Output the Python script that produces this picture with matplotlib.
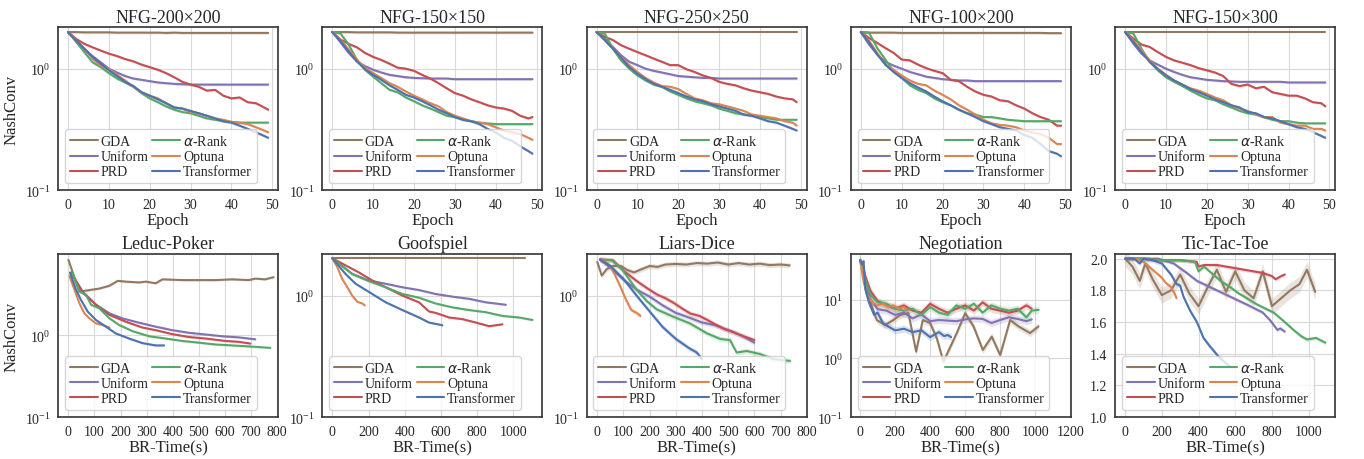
import numpy as np
import matplotlib.pyplot as plt
import seaborn as sns

sns.set_style('whitegrid')
plt.rcParams['font.family'] = ['Liberation Serif', 'DejaVu Sans']
plt.rcParams['axes.edgecolor'] = '.2'
plt.rcParams['axes.linewidth'] = 1.2
plt.rcParams['grid.color'] = '.85'

methods = ['GDA', 'Uniform', 'PRD', r'$\alpha$-Rank', 'Optuna', 'Transformer']
colors = ['#937860', '#8172B3', '#C44E52', '#55A868', '#DD8452', '#4C72B0']

## NFG games, NashConv per epoch (read every 2 epochs)
epochs = [0, 2, 4, 6, 8, 10, 12, 14, 16, 18, 20, 22, 24, 26, 28, 30, 32, 34, 36, 38, 40, 42, 44, 46, 48, 49]

nfg_titles = ['NFG-200×200', 'NFG-150×150', 'NFG-250×250', 'NFG-100×200', 'NFG-150×300']

gda_200 = [2.0, 2.0, 1.99, 1.99, 1.99, 1.99, 1.98, 1.98, 1.98, 1.98, 1.98, 1.98, 1.97, 1.98, 1.97, 1.97, 1.97, 1.97, 1.97, 1.97, 1.97, 1.97, 1.97, 1.97, 1.97, 1.97]
uni_200 = [2.0, 1.7, 1.45, 1.27, 1.13, 1.0, 0.93, 0.87, 0.83, 0.81, 0.79, 0.77, 0.76, 0.75, 0.745, 0.74, 0.74, 0.74, 0.74, 0.74, 0.74, 0.74, 0.74, 0.74, 0.74, 0.74]
prd_200 = [2.0, 1.76, 1.6, 1.5, 1.41, 1.33, 1.27, 1.2, 1.15, 1.08, 1.03, 0.98, 0.92, 0.85, 0.78, 0.74, 0.71, 0.66, 0.67, 0.6, 0.57, 0.58, 0.53, 0.52, 0.48, 0.46]
ar_200 = [2.0, 1.66, 1.37, 1.13, 1.03, 0.92, 0.83, 0.77, 0.71, 0.63, 0.57, 0.53, 0.49, 0.46, 0.44, 0.43, 0.41, 0.39, 0.38, 0.37, 0.365, 0.36, 0.36, 0.36, 0.36, 0.36]
opt_200 = [2.0, 1.72, 1.46, 1.21, 1.06, 1.0, 0.89, 0.8, 0.71, 0.64, 0.6, 0.57, 0.52, 0.48, 0.47, 0.44, 0.43, 0.41, 0.39, 0.38, 0.365, 0.36, 0.35, 0.33, 0.31, 0.3]
tr_200 = [2.0, 1.71, 1.46, 1.25, 1.1, 0.97, 0.87, 0.78, 0.72, 0.64, 0.6, 0.56, 0.52, 0.48, 0.47, 0.45, 0.43, 0.41, 0.39, 0.37, 0.36, 0.34, 0.32, 0.3, 0.28, 0.27]

gda_150 = [2.0, 2.0, 2.0, 1.99, 1.99, 1.99, 1.99, 1.99, 1.98, 1.98, 1.98, 1.98, 1.98, 1.98, 1.98, 1.98, 1.98, 1.98, 1.98, 1.98, 1.98, 1.98, 1.98, 1.98, 1.98, 1.98]
uni_150 = [2.0, 1.65, 1.35, 1.15, 1.05, 0.98, 0.93, 0.89, 0.87, 0.85, 0.84, 0.835, 0.83, 0.83, 0.83, 0.82, 0.82, 0.82, 0.82, 0.82, 0.82, 0.82, 0.82, 0.82, 0.82, 0.82]
prd_150 = [2.0, 1.74, 1.6, 1.5, 1.35, 1.25, 1.18, 1.1, 1.02, 1.0, 0.96, 0.89, 0.83, 0.76, 0.69, 0.63, 0.6, 0.56, 0.53, 0.5, 0.48, 0.47, 0.45, 0.41, 0.39, 0.4]
ar_150 = [2.0, 1.95, 1.58, 1.19, 0.98, 0.86, 0.76, 0.67, 0.64, 0.58, 0.54, 0.5, 0.47, 0.44, 0.41, 0.4, 0.38, 0.37, 0.36, 0.355, 0.35, 0.35, 0.35, 0.35, 0.35, 0.35]
opt_150 = [2.0, 1.74, 1.44, 1.19, 1.01, 0.92, 0.84, 0.76, 0.71, 0.65, 0.6, 0.56, 0.52, 0.49, 0.44, 0.41, 0.39, 0.37, 0.36, 0.35, 0.33, 0.31, 0.3, 0.29, 0.27, 0.26]
tr_150 = [2.0, 1.69, 1.39, 1.15, 0.99, 0.89, 0.81, 0.73, 0.67, 0.61, 0.58, 0.54, 0.5, 0.46, 0.43, 0.4, 0.38, 0.37, 0.35, 0.32, 0.3, 0.27, 0.255, 0.23, 0.21, 0.2]

gda_250 = [2.0, 2.0, 2.0, 2.0, 2.0, 2.0, 2.0, 2.0, 2.0, 2.0, 2.0, 2.0, 2.0, 2.0, 2.0, 2.0, 2.0, 2.0, 2.0, 2.0, 2.0, 2.0, 2.0, 2.0, 2.0, 2.0]
uni_250 = [2.0, 1.77, 1.51, 1.29, 1.14, 1.07, 1.0, 0.96, 0.93, 0.9, 0.87, 0.86, 0.85, 0.84, 0.84, 0.83, 0.83, 0.83, 0.83, 0.83, 0.83, 0.83, 0.83, 0.83, 0.83, 0.83]
prd_250 = [2.0, 1.83, 1.72, 1.56, 1.46, 1.37, 1.29, 1.21, 1.14, 1.07, 1.07, 0.99, 0.94, 0.88, 0.84, 0.78, 0.75, 0.73, 0.69, 0.66, 0.64, 0.62, 0.59, 0.57, 0.56, 0.53]
ar_250 = [2.0, 1.95, 1.46, 1.17, 1.0, 0.88, 0.8, 0.74, 0.71, 0.65, 0.61, 0.57, 0.54, 0.52, 0.5, 0.47, 0.45, 0.43, 0.42, 0.41, 0.4, 0.39, 0.38, 0.38, 0.38, 0.38]
opt_250 = [2.0, 1.72, 1.46, 1.25, 1.07, 0.94, 0.84, 0.77, 0.72, 0.71, 0.68, 0.62, 0.57, 0.55, 0.52, 0.51, 0.49, 0.47, 0.45, 0.42, 0.41, 0.4, 0.39, 0.37, 0.36, 0.34]
tr_250 = [2.0, 1.72, 1.46, 1.23, 1.03, 0.91, 0.82, 0.75, 0.71, 0.67, 0.63, 0.59, 0.56, 0.54, 0.51, 0.49, 0.47, 0.45, 0.42, 0.41, 0.39, 0.37, 0.36, 0.34, 0.32, 0.31]

gda_100 = [2.0, 1.98, 1.98, 1.98, 1.98, 1.97, 1.97, 1.97, 1.97, 1.97, 1.97, 1.97, 1.97, 1.97, 1.97, 1.97, 1.97, 1.97, 1.97, 1.97, 1.97, 1.97, 1.97, 1.96, 1.96, 1.96]
uni_100 = [2.0, 1.58, 1.31, 1.14, 1.06, 1.0, 0.94, 0.9, 0.86, 0.84, 0.82, 0.81, 0.8, 0.8, 0.79, 0.79, 0.79, 0.79, 0.79, 0.79, 0.79, 0.79, 0.79, 0.79, 0.79, 0.79]
prd_100 = [2.0, 1.79, 1.63, 1.48, 1.35, 1.19, 1.17, 1.08, 1.01, 0.96, 0.92, 0.81, 0.79, 0.71, 0.65, 0.61, 0.59, 0.55, 0.54, 0.5, 0.47, 0.43, 0.4, 0.38, 0.34, 0.34]
ar_100 = [2.0, 1.98, 1.48, 1.19, 0.95, 0.84, 0.73, 0.67, 0.63, 0.57, 0.53, 0.5, 0.46, 0.43, 0.42, 0.4, 0.4, 0.39, 0.38, 0.375, 0.37, 0.37, 0.37, 0.37, 0.37, 0.37]
opt_100 = [2.0, 1.7, 1.35, 1.08, 0.98, 0.88, 0.8, 0.75, 0.73, 0.66, 0.61, 0.56, 0.5, 0.46, 0.42, 0.38, 0.355, 0.345, 0.34, 0.33, 0.31, 0.3, 0.29, 0.27, 0.24, 0.24]
tr_100 = [2.0, 1.65, 1.31, 1.08, 0.94, 0.84, 0.76, 0.7, 0.65, 0.59, 0.54, 0.5, 0.46, 0.43, 0.4, 0.37, 0.35, 0.33, 0.32, 0.31, 0.285, 0.27, 0.24, 0.21, 0.2, 0.19]

gda_300 = [2.0, 2.0, 2.0, 2.0, 2.0, 2.0, 2.0, 2.0, 2.0, 2.0, 2.0, 2.0, 2.0, 2.0, 2.0, 2.0, 2.0, 2.0, 2.0, 2.0, 2.0, 2.0, 2.0, 2.0, 2.0, 2.0]
uni_300 = [2.0, 1.61, 1.33, 1.17, 1.08, 1.0, 0.94, 0.89, 0.85, 0.83, 0.81, 0.8, 0.79, 0.785, 0.78, 0.78, 0.78, 0.78, 0.78, 0.78, 0.77, 0.77, 0.77, 0.77, 0.77, 0.77]
prd_300 = [2.0, 1.77, 1.58, 1.51, 1.37, 1.25, 1.17, 1.12, 1.07, 1.01, 0.97, 0.93, 0.87, 0.75, 0.72, 0.74, 0.69, 0.71, 0.64, 0.62, 0.6, 0.6, 0.57, 0.53, 0.52, 0.49]
ar_300 = [2.0, 1.95, 1.46, 1.14, 0.97, 0.85, 0.78, 0.72, 0.66, 0.61, 0.57, 0.55, 0.51, 0.48, 0.45, 0.43, 0.42, 0.4, 0.38, 0.37, 0.37, 0.36, 0.355, 0.355, 0.355, 0.355]
opt_300 = [2.0, 1.71, 1.42, 1.17, 1.0, 0.89, 0.8, 0.74, 0.69, 0.66, 0.62, 0.58, 0.55, 0.5, 0.47, 0.45, 0.42, 0.4, 0.4, 0.36, 0.35, 0.34, 0.34, 0.32, 0.32, 0.31]
tr_300 = [2.0, 1.66, 1.37, 1.14, 0.99, 0.88, 0.8, 0.74, 0.68, 0.64, 0.6, 0.56, 0.53, 0.5, 0.48, 0.44, 0.43, 0.4, 0.39, 0.37, 0.35, 0.33, 0.32, 0.3, 0.28, 0.27]

nfg_data = [[gda_200, uni_200, prd_200, ar_200, opt_200, tr_200],
            [gda_150, uni_150, prd_150, ar_150, opt_150, tr_150],
            [gda_250, uni_250, prd_250, ar_250, opt_250, tr_250],
            [gda_100, uni_100, prd_100, ar_100, opt_100, tr_100],
            [gda_300, uni_300, prd_300, ar_300, opt_300, tr_300]]

## Extensive-form games, NashConv vs best-response time (s)
leduc_t = [[0, 42, 68, 118, 157, 189, 220, 271, 297, 335, 361, 437, 501, 564, 628, 692, 717, 755, 787],
           [10, 55, 106, 157, 208, 271, 335, 399, 462, 526, 590, 654, 717],
           [10, 55, 106, 157, 220, 284, 335, 399, 462, 526, 603, 654, 698],
           [14, 42, 68, 87, 118, 157, 195, 246, 310, 373, 437, 501, 564, 628, 692, 775],
           [4, 23, 42, 61, 80, 106, 131, 157],
           [6, 29, 48, 74, 106, 144, 182, 233, 284, 335, 367]]
leduc_v = [[8.3, 3.4, 3.5, 3.7, 4.0, 4.6, 4.5, 4.4, 4.5, 4.3, 4.8, 4.7, 4.7, 4.7, 4.8, 4.7, 4.9, 4.8, 5.1],
           [5.8, 3.4, 2.35, 1.85, 1.6, 1.42, 1.27, 1.15, 1.07, 1.02, 0.97, 0.94, 0.89],
           [5.8, 3.3, 2.35, 1.77, 1.46, 1.24, 1.15, 1.03, 0.95, 0.91, 0.85, 0.83, 0.79],
           [5.9, 3.4, 3.1, 2.35, 2.13, 1.61, 1.33, 1.12, 0.97, 0.91, 0.85, 0.81, 0.77, 0.75, 0.73, 0.7],
           [5.25, 3.6, 2.46, 1.85, 1.61, 1.39, 1.33, 1.24],
           [5.8, 3.6, 2.7, 1.94, 1.53, 1.27, 1.05, 0.91, 0.8, 0.75, 0.75]]

goof_t = [[0, 200, 400, 600, 800, 1065],
          [0, 110, 203, 295, 387, 479, 571, 663, 755, 847, 958],
          [0, 74, 147, 221, 295, 387, 479, 534, 571, 645, 718, 792, 866, 939],
          [0, 110, 203, 295, 387, 479, 571, 663, 755, 847, 939, 1031, 1105],
          [0, 28, 55, 83, 110, 138, 166, 179],
          [0, 74, 129, 203, 295, 387, 479, 534, 608]]
goof_v = [[2.03, 2.03, 2.03, 2.03, 2.03, 2.03],
          [2.03, 1.51, 1.33, 1.25, 1.17, 1.11, 1.03, 0.98, 0.94, 0.88, 0.84],
          [2.03, 1.77, 1.55, 1.33, 1.17, 1.0, 0.88, 0.74, 0.72, 0.66, 0.64, 0.6, 0.56, 0.58],
          [2.03, 1.5, 1.31, 1.17, 1.03, 0.96, 0.86, 0.8, 0.76, 0.73, 0.68, 0.66, 0.63],
          [2.03, 1.71, 1.37, 1.17, 1.0, 0.89, 0.86, 0.83],
          [2.03, 1.5, 1.25, 1.07, 0.88, 0.76, 0.66, 0.6, 0.57]]

liar_t = [[0, 17, 36, 60, 90, 115, 140, 170, 200, 230, 260, 300, 340, 380, 420, 460, 500, 540, 580, 620, 660, 700, 735],
          [10, 50, 100, 150, 200, 250, 300, 350, 400, 450, 500, 550, 600],
          [10, 60, 100, 150, 190, 228, 260, 292, 325, 356, 390, 420, 450, 485, 520, 549, 575, 600],
          [10, 55, 93, 150, 189, 227, 290, 354, 418, 469, 507, 532, 571, 622, 673, 736],
          [10, 30, 50, 70, 90, 110, 130, 150, 165],
          [10, 50, 100, 150, 200, 250, 300, 350, 380, 400]]
liar_v = [[1.89, 1.46, 1.65, 1.75, 1.75, 1.62, 1.55, 1.65, 1.75, 1.72, 1.8, 1.82, 1.8, 1.85, 1.83, 1.87, 1.8, 1.85, 1.8, 1.83, 1.78, 1.8, 1.77],
          [1.98, 1.7, 1.35, 1.12, 0.98, 0.83, 0.72, 0.66, 0.6, 0.57, 0.52, 0.47, 0.41],
          [1.98, 1.95, 1.6, 1.32, 1.15, 1.02, 0.95, 0.87, 0.78, 0.71, 0.68, 0.63, 0.58, 0.53, 0.5, 0.47, 0.45, 0.43],
          [1.98, 1.95, 1.66, 1.12, 0.9, 0.77, 0.67, 0.59, 0.49, 0.44, 0.43, 0.34, 0.35, 0.33, 0.3, 0.29],
          [1.98, 1.9, 1.74, 1.44, 1.16, 0.92, 0.76, 0.72, 0.68],
          [1.98, 1.75, 1.37, 1.0, 0.74, 0.55, 0.44, 0.37, 0.34, 0.3]]

nego_t = [[0, 19, 38, 67, 95, 143, 190, 229, 276, 320, 358, 400, 438, 476, 552, 600, 648, 701, 752, 800, 857, 905, 971, 1019],
          [0, 20, 40, 60, 100, 150, 200, 250, 300, 350, 400, 450, 500, 550, 600, 650, 700, 750, 800, 850, 900, 950, 980],
          [0, 30, 60, 100, 150, 200, 250, 300, 350, 400, 450, 500, 550, 600, 650, 700, 750, 800, 850, 900, 950, 980],
          [0, 30, 60, 100, 150, 200, 250, 300, 350, 400, 450, 500, 550, 600, 650, 700, 750, 800, 850, 900, 950, 980, 1020],
          [0, 20, 40, 70, 100, 130, 160, 190, 220, 250, 270],
          [0, 10, 20, 30, 50, 80, 100, 130, 160, 200, 250, 300, 350, 400, 450, 480, 500, 520]]
nego_v = [[47, 37, 15.8, 7.7, 4.5, 3.7, 4.5, 5.5, 5.9, 1.3, 4.5, 4.0, 2.2, 0.88, 2.7, 5.9, 3.5, 1.39, 2.35, 1.14, 4.5, 3.5, 2.7, 3.5],
          [47, 30, 15, 10, 6.9, 6.5, 5.5, 6.0, 4.8, 5.6, 4.3, 4.5, 4.4, 4.3, 4.6, 4.8, 4.7, 4.0, 4.5, 5.0, 4.7, 4.3, 4.6],
          [47, 25, 14, 9.5, 8, 7, 8, 6.5, 6, 8.5, 7, 6, 7, 8, 6.5, 9, 7, 6.5, 6, 6.5, 8, 7],
          [47, 22, 12, 9, 8.5, 7, 6.5, 7, 5.5, 7.5, 6, 5.5, 8, 7, 8.5, 6, 8, 7, 6.5, 7, 5, 6.5, 6.7],
          [47, 20, 12, 9, 8, 8.5, 7.5, 8, 7, 7.5, 6.5],
          [47, 40, 45, 15, 9, 5.5, 6, 4, 3.5, 3, 3.2, 2.8, 3.0, 2.3, 2.8, 2.4, 2.5, 2.3]]

ttt_t = [[0, 40, 80, 110, 150, 200, 250, 300, 350, 400, 450, 500, 550, 600, 650, 700, 750, 800, 850, 900, 950, 991, 1036],
         [0, 100, 180, 264, 336, 391, 482, 573, 664, 750, 791, 830, 845, 870],
         [0, 100, 200, 300, 390, 400, 430, 500, 550, 600, 650, 700, 750, 800, 820, 850, 870],
         [0, 100, 200, 300, 380, 400, 430, 480, 520, 573, 620, 664, 720, 809, 860, 918, 960, 991, 1040, 1091],
         [0, 60, 100, 130, 160, 200, 220, 250, 270, 280],
         [0, 50, 80, 100, 150, 200, 250, 280, 300, 318, 355, 391, 427, 460, 482, 510, 540, 570]]
ttt_v = [[2.0, 1.95, 1.86, 1.97, 1.87, 1.77, 1.8, 1.9, 1.78, 1.7, 1.82, 1.93, 1.79, 1.92, 1.8, 1.75, 1.92, 1.7, 1.75, 1.8, 1.84, 1.93, 1.79],
         [2.0, 2.0, 2.0, 1.97, 1.91, 1.86, 1.81, 1.76, 1.71, 1.66, 1.61, 1.55, 1.56, 1.54],
         [2.0, 2.0, 1.99, 1.99, 1.98, 1.95, 1.96, 1.96, 1.95, 1.94, 1.93, 1.92, 1.91, 1.89, 1.87, 1.89, 1.9],
         [2.0, 2.0, 1.99, 1.99, 1.98, 1.92, 1.95, 1.9, 1.86, 1.82, 1.78, 1.75, 1.71, 1.66, 1.61, 1.55, 1.51, 1.49, 1.5, 1.47],
         [2.0, 2.0, 1.98, 1.95, 1.92, 1.88, 1.85, 1.82, 1.78, 1.75],
         [2.0, 2.0, 1.97, 2.0, 1.99, 1.97, 1.9, 1.84, 1.83, 1.76, 1.67, 1.6, 1.5, 1.45, 1.42, 1.38, 1.35, 1.32]]

efg_titles = ['Leduc-Poker', 'Goofspiel', 'Liars-Dice', 'Negotiation', 'Tic-Tac-Toe']
efg_times = [leduc_t, goof_t, liar_t, nego_t, ttt_t]
efg_vals = [leduc_v, goof_v, liar_v, nego_v, ttt_v]
efg_xlim = [(-40, 805), None, (-41, 800), (-53, 1205), None]
efg_ylim = [(0.1, 9.8), (0.1, 2.2), (0.1, 2.2), (0.1, 60), (1.0, 2.03)]
efg_xticks = [[0, 100, 200, 300, 400, 500, 600, 700, 800],
              [0, 200, 400, 600, 800, 1000],
              [0, 100, 200, 300, 400, 500, 600, 700, 800],
              [0, 200, 400, 600, 800, 1000, 1200],
              [0, 200, 400, 600, 800, 1000]]
ttt_yticks = [1.0, 1.2, 1.4, 1.6, 1.8, 2.0]
efg_spread = [0.03, 0.02, 0.05, 0.15, None]
ttt_spread = [0.05, 0.012, 0.012, 0.012, 0.01, 0.015]

fig, axes = plt.subplots(2, 5, figsize=(13.64, 4.6), dpi=100)
fig.subplots_adjust(left=0.0425, right=0.979, top=0.939, bottom=0.091, wspace=0.2, hspace=0.39)

def finish(ax, title, xlabel, ylabel):
  ax.set_title(title, fontsize=13, pad=4)
  ax.set_xlabel(xlabel, fontsize=12, labelpad=1)
  if ylabel:
    ax.set_ylabel('NashConv', fontsize=12)
  ax.tick_params(labelsize=10, pad=2)
  ax.legend(loc='lower left', ncol=2, fontsize=10, handlelength=2.0, handletextpad=0.2,
            columnspacing=0.3, labelspacing=0.15, borderpad=0.35, borderaxespad=0.5)

##top row: NFG
for k in range(5):
  ax = axes[0, k]
  for j in range(6):
    v = np.array(nfg_data[k][j])
    ax.plot(epochs, v, color=colors[j], lw=1.5, label=methods[j])
    ax.fill_between(epochs, v/1.025, v*1.025, color=colors[j], alpha=0.2, lw=0)
  ax.set_yscale('log')
  ax.set_ylim(0.1, 2.2)
  ax.set_xticks([0, 10, 20, 30, 40, 50])
  finish(ax, nfg_titles[k], 'Epoch', k == 0)

##bottom row: extensive-form games
for k in range(5):
  ax = axes[1, k]
  for j in range(6):
    t = efg_times[k][j]
    v = np.array(efg_vals[k][j])
    ax.plot(t, v, color=colors[j], lw=1.5, label=methods[j])
    if efg_spread[k] is None:
      ax.fill_between(t, v-ttt_spread[j], v+ttt_spread[j], color=colors[j], alpha=0.2, lw=0)
    else:
      s = efg_spread[k]
      ax.fill_between(t, v/(1+s), v*(1+s), color=colors[j], alpha=0.2, lw=0)
  if efg_spread[k] is not None:
    ax.set_yscale('log')
  else:
    ax.set_yticks(ttt_yticks)
  ax.set_xticks(efg_xticks[k])
  ax.set_ylim(*efg_ylim[k])
  if efg_xlim[k] is not None:
    ax.set_xlim(*efg_xlim[k])
  finish(ax, efg_titles[k], 'BR-Time(s)', k == 0)

plt.savefig('out.png', dpi=100)
